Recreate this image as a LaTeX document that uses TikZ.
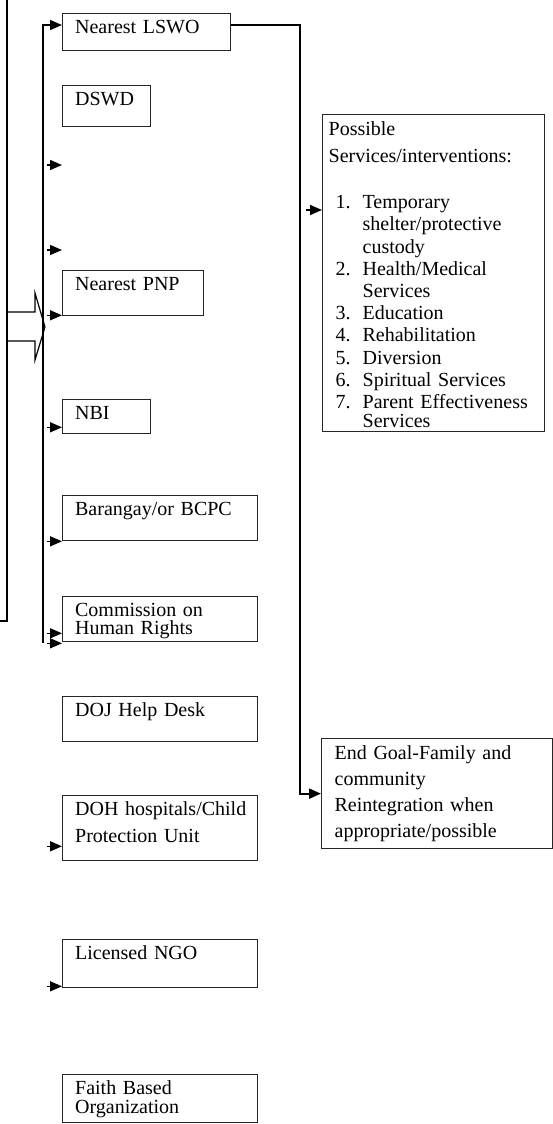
\documentclass[tikz,border=0pt]{standalone}
\usepackage{fontspec}
\setmainfont{Liberation Serif}
\usetikzlibrary{arrows.meta}
\tikzset{
	>={Triangle[length=12pt,width=10pt]},
	orgbox/.style={draw=black!85, line width=1.3pt, anchor=north west, inner xsep=12.5pt, inner ysep=0pt, align=left, text height=20pt, font=\fontsize{20}{26}\selectfont},
	feed/.style={->, line width=1.5pt},
}
\begin{document}
\begin{tikzpicture}[x=1pt,y=-1pt]
	\useasboundingbox (0,0) rectangle (553,1124);
	\draw[line width=1.5pt] (7,0) -- (7,621) -- (0,621);
	\draw[line width=1.2pt] (7,312) -- (35,312) -- (35,293) -- (45,327) -- (35,360) -- (35,341) -- (7,341);
	\node[orgbox, text width=143pt, text depth=17pt] (lswo) at (62,13) {Nearest LSWO};
	\node[orgbox, text width=63pt, text depth=21pt] (dswd) at (62,85) {DSWD};
	\node[orgbox, text width=116pt, text depth=25pt] (pnp) at (62,270) {Nearest PNP};
	\node[orgbox, text width=63pt, text depth=14pt] (nbi) at (62,399) {NBI};
	\node[orgbox, text width=170pt, text depth=25pt] (brgy) at (62,495) {Barangay/or BCPC};
	\node[orgbox, text width=170pt, text depth=25pt] (chr) at (62,596) {Commission on\\[-8pt]Human Rights};
	\node[orgbox, text width=170pt, text depth=25pt] (doj) at (62,696) {DOJ Help Desk};
	\node[orgbox, text width=170pt, text depth=45pt] (doh) at (62,795) {\mbox{DOH hospitals/Child}\\[1pt]Protection Unit};
	\node[orgbox, text width=170pt, text depth=28pt] (ngo) at (62,939) {Licensed NGO};
	\node[orgbox, text width=170pt, text depth=28pt] (faith) at (62,1074) {Faith Based\\[-7pt]Organization};
	\node[orgbox, inner xsep=6pt, text width=210pt, text height=21pt, text depth=296pt] (svc) at (322,114) {Possible\\[1pt]
		Services/interventions:\\[20pt]
		\hspace*{7pt}\makebox[27pt][l]{1.}Temporary\\[-3.8pt]
		\hspace*{34pt}shelter/protective\\[-3.8pt]
		\hspace*{34pt}custody\\[-3.8pt]
		\hspace*{7pt}\makebox[27pt][l]{2.}Health/Medical\\[-3.8pt]
		\hspace*{34pt}Services\\[-3.8pt]
		\hspace*{7pt}\makebox[27pt][l]{3.}Education\\[-3.8pt]
		\hspace*{7pt}\makebox[27pt][l]{4.}Rehabilitation\\[-3.8pt]
		\hspace*{7pt}\makebox[27pt][l]{5.}Diversion\\[-3.8pt]
		\hspace*{7pt}\makebox[27pt][l]{6.}Spiritual Services\\[-3.8pt]
		\hspace*{7pt}\makebox[27pt][l]{7.}Parent Effectiveness\\[-7pt]
		\hspace*{34pt}Services};
	\node[orgbox, inner xsep=13pt, text width=205pt, text height=21pt, text depth=89pt] (goal) at (321,738) {End Goal-Family and\\community\\Reintegration when\\appropriate/possible};
	\coordinate (bustop) at (43,25);
	\coordinate (busbot) at (43,643);
	\coordinate (tap) at (47,0);
	\coordinate (turn) at (300,0);
	\coordinate (svcin) at (306,210);
	\draw[feed] (busbot) -- (bustop) -- (bustop -| lswo.west);
	\foreach \y in {165,250}
		\draw[feed] (tap |- 0,\y) -- +(15,0);
	\foreach \b/\dy in {pnp/-1, nbi/-7, brgy/0, chr/-9, chr/1, doh/-15, ngo/-2} {
		\path (\b.south west) ++(0,\dy) coordinate (in);
		\draw[feed] (in -| tap) -- (in);
	}
	\draw[->, line width=2.2pt] ([yshift=7.5pt]lswo.east) -| (turn |- goal.west) -- (goal.west);
	\draw[feed] (svcin) -- (svcin -| svc.west);
\end{tikzpicture}
\end{document}
